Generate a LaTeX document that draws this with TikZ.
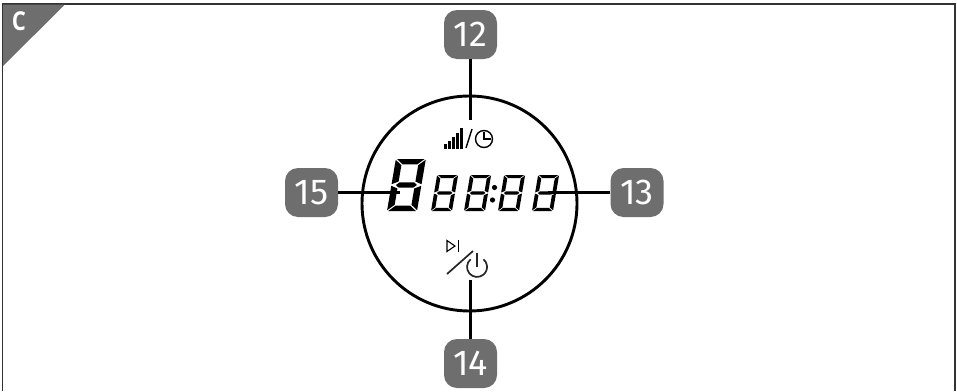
\documentclass[tikz,border=0pt]{standalone}
\usepackage{fontspec}
\setmainfont{Open Sans}
\newfontfamily\badgefont{Fira Sans}
\definecolor{badgegray}{HTML}{6E6E6E}
\newcommand{\segdigit}[6]{% x, y(bottom), w, h, tx, ty (fractions)
\begin{scope}[shift={(#1,#2)},xslant=0.17,x=#3pt,y=-#4pt,yscale=-1]
\def\tx{#5}\def\ty{#6}\def\gx{0.04}\def\gy{0.015}
\fill ({\gx},1)--({1-\gx},1)--({1-\gx-\tx},{1-\ty})--({\gx+\tx},{1-\ty})--cycle;
\fill ({\gx},0)--({1-\gx},0)--({1-\gx-\tx},{\ty})--({\gx+\tx},{\ty})--cycle;
\fill ({\gx+\tx*0.5},0.5)--({\gx+\tx},{0.5+\ty*0.5})--({1-\gx-\tx},{0.5+\ty*0.5})--({1-\gx-\tx*0.5},0.5)--({1-\gx-\tx},{0.5-\ty*0.5})--({\gx+\tx},{0.5-\ty*0.5})--cycle;
\fill (0,{1-\gy})--({\tx},{1-\gy-\ty})--({\tx},{0.5+\gy+\ty*0.5})--(0,{0.5+\gy})--cycle;
\fill (1,{1-\gy})--({1-\tx},{1-\gy-\ty})--({1-\tx},{0.5+\gy+\ty*0.5})--(1,{0.5+\gy})--cycle;
\fill (0,{\gy})--({\tx},{\gy+\ty})--({\tx},{0.5-\gy-\ty*0.5})--(0,{0.5-\gy})--cycle;
\fill (1,{\gy})--({1-\tx},{\gy+\ty})--({1-\tx},{0.5-\gy-\ty*0.5})--(1,{0.5-\gy})--cycle;
\end{scope}}
\tikzset{
  badge/.style={fill=badgegray,rounded corners=13pt,minimum width=53pt,minimum height=49pt,inner sep=0pt,text=white,font=\badgefont\fontsize{36}{36}\selectfont},
  leader/.style={line width=2.2pt,black},
  icon/.style={line width=1.4pt,black}
}
\begin{document}
\begin{tikzpicture}[x=1pt,y=-1pt]
\useasboundingbox (0,0) rectangle (957,391);
\draw[line width=1.4pt,black!80] (2.5,391)--(2.5,4)--(955,4)--(955,391);
\fill[badgegray] (3,4.5)--(65,4.5)--(3,66)--cycle;
\node[text=white,font=\bfseries\fontsize{26}{26}\selectfont,xscale=.85] (corner) at (19,21) {C};
% circle
\node[draw,circle,line width=2.9pt,minimum size=215pt,inner sep=0pt] (dial) at (469.5,203.5) {};
% digits
\segdigit{387}{211}{30}{52}{0.22}{0.105}
\segdigit{431}{211}{21}{36}{0.18}{0.085}
\segdigit{464}{211}{21}{36}{0.18}{0.085}
\segdigit{498}{211}{21}{36}{0.18}{0.085}
\segdigit{532}{211}{21}{36}{0.18}{0.085}
\fill (494.5,187.5) circle (2.6pt) (492.5,200) circle (2.6pt);
% signal icon
\foreach \i/\t in {0/144,1/141,2/137,3/133,4/128}{
  \fill (443.5+4*\i,149)rectangle(447+4*\i,\t);}
\draw[icon] (466,148)--(472,129);
\draw[icon] (484,139) circle (8.5pt);
\draw[icon] (484,132)--(484,139)--(491,139);
% play / power
\coordinate (sa) at (447,274);
\coordinate (sb) at (473,251);
\draw[line width=1.7pt,black!85] (sa)--(sb);
\draw[line width=1.1pt] (455,246) -- (447,240.5)--(447,251.5)--cycle;
\draw[line width=1.4pt] (458.5,240)--(458.5,252);
\draw[line width=1.7pt,black!85] (470.6,259.3) arc[start angle=130,end angle=410,radius=10pt];
\draw[line width=2pt,black!85] (477,253)--(477,267);
% badges
\node[badge] (n12) at (470.5,34.5) {12};
\node[badge] (n13) at (637,192.5) {13};
\node[badge] (n14) at (470.5,363.5) {14};
\node[badge] (n15) at (311.5,192.5) {15};
\coordinate (e12) at (470.5,120);
\coordinate (e13) at (548,192.5);
\coordinate (e14) at (470.5,280);
\coordinate (e15) at (400,192.5);
\draw[leader] (n12)--(e12);
\draw[leader] (n13)--(e13);
\draw[leader] (n14)--(e14);
\draw[leader] (n15)--(e15);
\end{tikzpicture}
\end{document}
